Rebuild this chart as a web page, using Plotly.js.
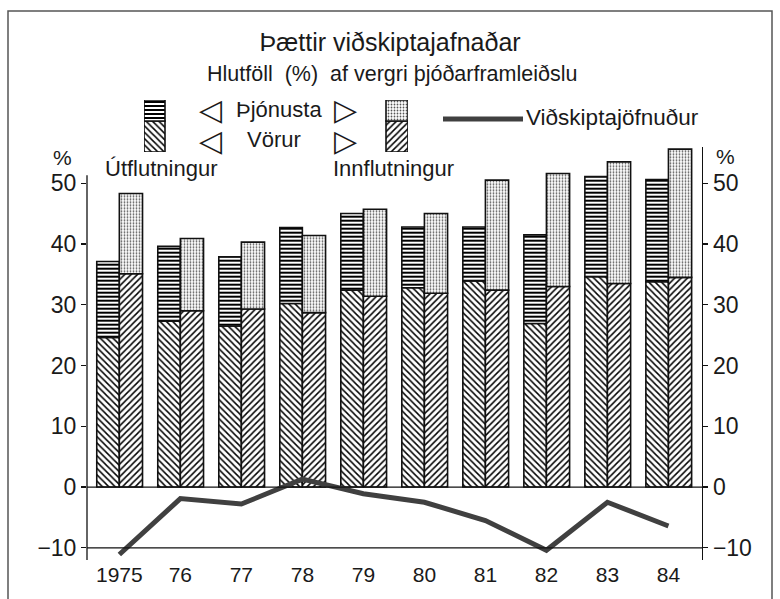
<!DOCTYPE html>
<html>
<head>
<meta charset="utf-8">
<script src="https://cdn.plot.ly/plotly-3.0.1.min.js"></script>
<style>html,body{margin:0;padding:0;background:#fff;}#chart{width:780px;height:599px;}</style>
</head>
<body>
<div id="chart"></div>
<script>
// ---- data (percent of GDP) ----
const years = ['1975','76','77','78','79','80','81','82','83','84'];
const exportGoods    = [24.6, 27.3, 26.5, 30.2, 32.4, 32.8, 33.9, 26.9, 34.6, 33.8];
const exportServices = [12.5, 12.3, 11.4, 12.5, 12.6, 10.0,  8.9, 14.6, 16.5, 16.8];
const importGoods    = [35.1, 29.0, 29.3, 28.7, 31.4, 31.9, 32.4, 33.0, 33.5, 34.5];
const importServices = [13.2, 11.9, 11.0, 12.7, 14.3, 13.1, 18.1, 18.6, 20.0, 21.1];
const balance        = [-11.1, -1.9, -2.8, 1.3, -1.1, -2.5, -5.5, -10.4, -2.5, -6.4];
const yTicks = [-10, 0, 10, 20, 30, 40, 50];

// ---- layout helpers (pixel -> paper) ----
const L = 87, R = 702, T = 95, B = 560;
const px = x => (x - L) / (R - L);
const py = y => (B - y) / (B - T);

const idx = years.map((_, i) => i);
const FONT = 'Liberation Sans, Arial, Helvetica, sans-serif';
const ink = '#1a1a1a';

const pat = (shape, size, sol, fg) => ({shape: shape, size: size, solidity: sol, fgcolor: fg, bgcolor: '#ffffff', fillmode: 'replace'});
const line = {color: '#111', width: 1.6};

const P_EXG = pat('\\', 4.5, 0.33, '#000');
const P_EXS = pat('-', 4, 0.5, '#000');
const P_IMG = pat('/', 4.5, 0.33, '#000');
const P_IMS = pat('.', 3, 0.28, '#555');

const W_EX = 0.37, W_IM = 0.38;

const traces = [
  {type: 'bar', x: idx, y: exportGoods, base: 0, offset: -W_EX, width: W_EX,
   marker: {color: '#fff', line: line, pattern: P_EXG}, xaxis: 'x', yaxis: 'y', hoverinfo: 'skip'},
  {type: 'bar', x: idx, y: exportServices, base: exportGoods, offset: -W_EX, width: W_EX,
   marker: {color: '#fff', line: line, pattern: P_EXS}, xaxis: 'x', yaxis: 'y', hoverinfo: 'skip'},
  {type: 'bar', x: idx, y: importGoods, base: 0, offset: 0, width: W_IM,
   marker: {color: '#fff', line: line, pattern: P_IMG}, xaxis: 'x', yaxis: 'y', hoverinfo: 'skip'},
  {type: 'bar', x: idx, y: importServices, base: importGoods, offset: 0, width: W_IM,
   marker: {color: '#fff', line: line, pattern: P_IMS}, xaxis: 'x', yaxis: 'y', hoverinfo: 'skip'},
  {type: 'scatter', mode: 'lines', x: idx, y: balance, line: {color: '#404040', width: 5},
   xaxis: 'x', yaxis: 'y2', hoverinfo: 'skip'},
  // legend swatches (separate hidden axes, pixel units)
  {type: 'bar', x: [154.5], y: [31], base: 0, width: 21, marker: {color: '#fff', line: line, pattern: P_EXG}, xaxis: 'x3', yaxis: 'y3', hoverinfo: 'skip'},
  {type: 'bar', x: [154.5], y: [21], base: 31, width: 21, marker: {color: '#fff', line: line, pattern: P_EXS}, xaxis: 'x3', yaxis: 'y3', hoverinfo: 'skip'},
  {type: 'bar', x: [397], y: [31], base: 0, width: 22, marker: {color: '#fff', line: line, pattern: P_IMG}, xaxis: 'x3', yaxis: 'y3', hoverinfo: 'skip'},
  {type: 'bar', x: [397], y: [21], base: 31, width: 22, marker: {color: '#fff', line: line, pattern: P_IMS}, xaxis: 'x3', yaxis: 'y3', hoverinfo: 'skip'}
];

const yTop = py(146.7);
const ax = {showgrid: false, zeroline: false, fixedrange: true};

const layout = {
  width: 780, height: 599,
  margin: {l: L, r: 780 - R, t: T, b: 599 - B, pad: 0},
  paper_bgcolor: '#fff', plot_bgcolor: 'rgba(0,0,0,0)',
  showlegend: false, barmode: 'overlay', bargap: 0,
  font: {family: FONT, color: ink, size: 22},
  title: {text: 'Þættir viðskiptajafnaðar', font: {family: FONT, size: 25, color: ink},
          x: 0.5, xref: 'container', xanchor: 'center', y: 1 - 42 / 599, yref: 'container', yanchor: 'middle'},
  xaxis: Object.assign({}, ax, {domain: [0, 1], range: [-0.53, 9.55], anchor: 'y', showline: false,
          tickmode: 'array', tickvals: idx, ticktext: years, ticks: '', tickfont: {size: 21, family: FONT, color: ink}}),
  yaxis: Object.assign({}, ax, {domain: [0, yTop], range: [-12, 56], anchor: 'x', side: 'left', showline: false,
          tickmode: 'array', tickvals: yTicks, ticks: 'outside', ticklen: 5, tickwidth: 1.3, tickcolor: '#111',
          tickfont: {size: 23, family: FONT, color: ink}}),
  yaxis2: Object.assign({}, ax, {overlaying: 'y', range: [-12, 56], anchor: 'x', side: 'right', showline: true, linecolor: '#111', linewidth: 1.3,
          tickmode: 'array', tickvals: yTicks, ticks: 'outside', ticklen: 5, tickwidth: 1.3, tickcolor: '#111',
          tickfont: {size: 23, family: FONT, color: ink}}),
  xaxis3: Object.assign({}, ax, {domain: [px(144), px(408)], range: [144, 408], anchor: 'y3', visible: false}),
  yaxis3: Object.assign({}, ax, {domain: [py(152), py(100)], range: [0, 52], anchor: 'x3', visible: false}),
  shapes: [
    // outer frame
    {type: 'rect', xref: 'paper', yref: 'paper', x0: px(8), x1: px(772), y0: py(605), y1: py(11), line: {color: '#555', width: 1.5}, fillcolor: 'rgba(0,0,0,0)'},
    // left axis line
    {type: 'line', xref: 'paper', yref: 'y', x0: 0, x1: 0, y0: -12.3, y1: 51.3, line: {color: '#111', width: 1.3}},
    // reference lines at 0 and -10
    {type: 'line', xref: 'paper', yref: 'y', x0: 0, x1: 1, y0: 0, y1: 0, line: {color: '#111', width: 1.2}},
    {type: 'line', xref: 'paper', yref: 'y', x0: 0, x1: 1, y0: -10, y1: -10, line: {color: '#111', width: 1.2}},
    // legend line sample
    {type: 'line', xref: 'paper', yref: 'paper', x0: px(443), x1: px(523), y0: py(119), y1: py(119), line: {color: '#404040', width: 5}}
  ],
  annotations: [
    {text: 'Hlutföll  (%)  af vergri þjóðarframleiðslu', xref: 'paper', yref: 'paper', x: px(392), y: py(74), xanchor: 'center', yanchor: 'middle', showarrow: false, font: {size: 21.5}},
    {text: '◁', xref: 'paper', yref: 'paper', x: px(210), y: py(110), xanchor: 'center', yanchor: 'middle', showarrow: false, font: {size: 30}},
    {text: 'Þjónusta', xref: 'paper', yref: 'paper', x: px(279), y: py(109), xanchor: 'center', yanchor: 'middle', showarrow: false, font: {size: 22}},
    {text: '▷', xref: 'paper', yref: 'paper', x: px(345), y: py(110), xanchor: 'center', yanchor: 'middle', showarrow: false, font: {size: 30}},
    {text: '◁', xref: 'paper', yref: 'paper', x: px(210), y: py(140), xanchor: 'center', yanchor: 'middle', showarrow: false, font: {size: 30}},
    {text: 'Vörur', xref: 'paper', yref: 'paper', x: px(274), y: py(139), xanchor: 'center', yanchor: 'middle', showarrow: false, font: {size: 22}},
    {text: '▷', xref: 'paper', yref: 'paper', x: px(345), y: py(140), xanchor: 'center', yanchor: 'middle', showarrow: false, font: {size: 30}},
    {text: 'Útflutningur', xref: 'paper', yref: 'paper', x: px(103), y: py(168), xanchor: 'left', yanchor: 'middle', showarrow: false, font: {size: 22}},
    {text: 'Innflutningur', xref: 'paper', yref: 'paper', x: px(331), y: py(168), xanchor: 'left', yanchor: 'middle', showarrow: false, font: {size: 22}},
    {text: 'Viðskiptajöfnuður', xref: 'paper', yref: 'paper', x: px(524), y: py(117), xanchor: 'left', yanchor: 'middle', showarrow: false, font: {size: 22.5}},
    {text: '%', xref: 'paper', yref: 'paper', x: px(62), y: py(157), xanchor: 'center', yanchor: 'middle', showarrow: false, font: {size: 21}},
    {text: '%', xref: 'paper', yref: 'paper', x: px(725), y: py(156), xanchor: 'center', yanchor: 'middle', showarrow: false, font: {size: 21}}
  ]
};

Plotly.newPlot('chart', traces, layout, {staticPlot: true, displayModeBar: false});
</script>
</body>
</html>
